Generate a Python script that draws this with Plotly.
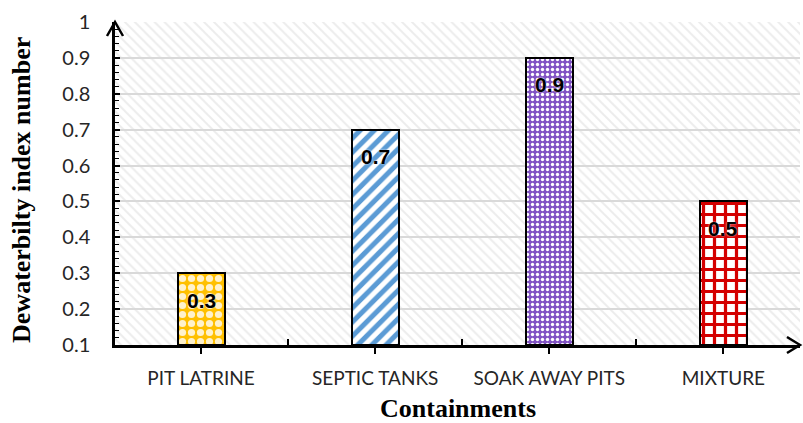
import plotly.graph_objects as go

# Dewaterability index by containment type
categories = ["PIT LATRINE", "SEPTIC TANKS", "SOAK AWAY PITS", "MIXTURE"]
values = [0.3, 0.7, 0.9, 0.5]
y_ticks = [0.1, 0.2, 0.3, 0.4, 0.5, 0.6, 0.7, 0.8, 0.9, 1]

# per-bar fill patterns
pat_shapes = [".", "/", ".", "+"]
pat_fg = ["#fff2cc", "#5b9bd5", "#ffffff", "#d40000"]
pat_bg = ["#ffc000", "#ffffff", "#8153c4", "#ffffff"]
pat_size = [9, 10, 5, 11]
pat_solid = [0.5, 0.5, 0.35, 0.5]

x_pos = list(range(len(categories)))
x_range = [-0.494, 3.44]
y_range = [0.1, 1.0]

fig = go.Figure()

# hatched plot-area background
fig.add_trace(go.Bar(
    x=[(x_range[0] + x_range[1]) / 2], y=[y_range[1] - y_range[0]], base=[y_range[0]],
    width=[x_range[1] - x_range[0]],
    marker=dict(color="rgba(0,0,0,0)", line=dict(width=0),
                pattern=dict(shape="\\", fgcolor="#dadada", bgcolor="rgba(0,0,0,0)",
                             size=7, solidity=0.28)),
    hoverinfo="skip", showlegend=False,
))

# one trace per containment so each bar carries its own pattern
for i, (cat, v) in enumerate(zip(categories, values)):
    fig.add_trace(go.Bar(
        x=[x_pos[i]], y=[v - y_range[0]], base=[y_range[0]], width=0.27, name=cat,
        marker=dict(color=pat_bg[i], line=dict(color="black", width=2),
                    pattern=dict(shape=pat_shapes[i], fgcolor=pat_fg[i], bgcolor=pat_bg[i],
                                 size=pat_size[i], solidity=pat_solid[i], fillmode="replace")),
        showlegend=False,
    ))

# value labels inside the top of each bar
for xi, v in zip(x_pos, values):
    fig.add_annotation(x=xi, y=v, text=f"<b>{v:g}</b>", showarrow=False, yshift=-27,
                       font=dict(family="Liberation Sans", size=21, color="black",
                                 shadow="0px 0px 2px white"))

# axis titles
fig.add_annotation(xref="paper", yref="paper", x=0, y=0.48, xshift=-93, textangle=-90,
                   xanchor="center", yanchor="middle",
                   text="<b>Dewaterbilty index number</b>", showarrow=False,
                   font=dict(family="Liberation Serif", size=26, color="black"))
fig.add_annotation(xref="paper", yref="paper", x=0.5, y=0, yshift=-63,
                   xanchor="center", yanchor="middle",
                   text="<b>Containments</b>", showarrow=False,
                   font=dict(family="Liberation Serif", size=26, color="black"))

# open arrowheads at the axis ends
arrow = dict(type="path", xref="paper", yref="paper", xsizemode="pixel", ysizemode="pixel",
             line=dict(color="black", width=2.5), layer="above")
fig.add_shape(**arrow, xanchor=0, yanchor=1, path="M -8,-14 L 0,0 L 8,-14")
fig.add_shape(**arrow, xanchor=1, yanchor=0, path="M -13,8 L 0,0 L -13,-8")

fig.update_layout(
    width=803, height=423,
    margin=dict(l=115, r=3, t=22, b=78),
    paper_bgcolor="white", plot_bgcolor="white",
    barmode="overlay", bargap=0,
    font=dict(family="Lato", color="#262626"),
)
fig.update_xaxes(
    range=x_range, tickvals=x_pos, ticktext=categories,
    tickfont=dict(size=19, color="#262626"),
    showline=True, linecolor="black", linewidth=2.5,
    ticks="outside", ticklen=6, tickwidth=1.5, tickcolor="black",
    minor=dict(tickvals=[0.5, 1.5, 2.5], ticks="inside", ticklen=6, tickwidth=1.5,
               tickcolor="black", showgrid=False),
    showgrid=False, zeroline=False, ticklabelstandoff=8,
)
fig.update_yaxes(
    range=y_range, tickvals=y_ticks, ticktext=[f"{t:g}" for t in y_ticks],
    tickfont=dict(size=20, color="#262626"),
    showline=True, linecolor="black", linewidth=2.5,
    ticks="inside", ticklen=5, tickwidth=1.5, tickcolor="black",
    minor=dict(dtick=0.02, ticks="inside", ticklen=4, tickwidth=1, tickcolor="black",
               showgrid=False),
    showgrid=True, gridcolor="#d9d9d9", gridwidth=1.5,
    zeroline=False, ticklabelstandoff=18,
)

fig.write_html("out.html")
